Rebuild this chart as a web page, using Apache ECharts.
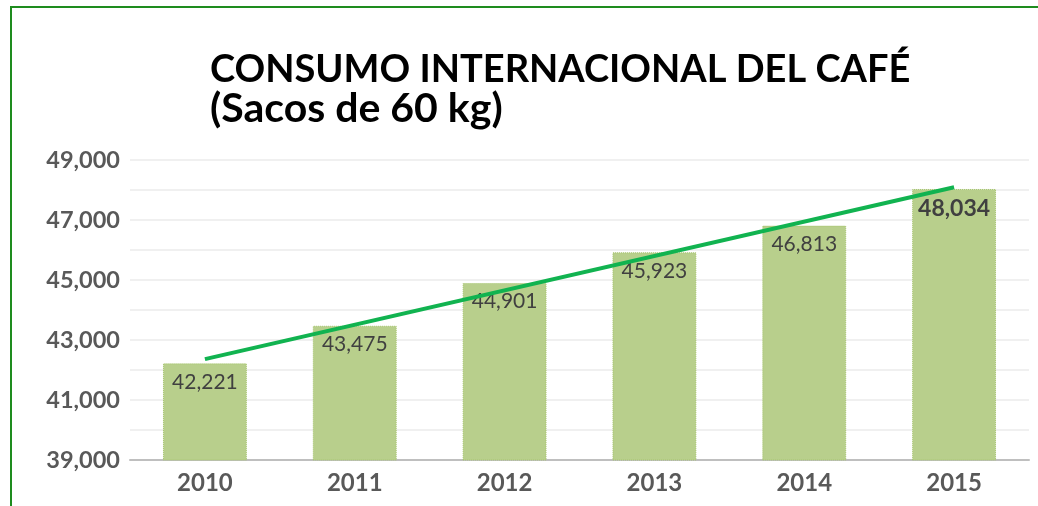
<!DOCTYPE html>
<html lang="es">
<head>
    <meta charset="UTF-8">
    <title>Consumo internacional del café</title>
    <style>
        html, body { margin: 0; padding: 0; background: #fff; }
    </style>
</head>
<body>
<div id="main" style="width: 1038px;height:506px;"></div>
<script type="text/javascript" src="https://cdn.jsdelivr.net/npm/echarts@6/dist/echarts.min.js"></script>
<script type="text/javascript">
    // datos
    var years = ['2010', '2011', '2012', '2013', '2014', '2015'];
    var consumo = [42221, 43475, 44901, 45923, 46813, 48034];
    // línea de tendencia: extremos
    var tendencia = [42364, null, null, null, null, 48092];

    var myChart = echarts.init(document.getElementById('main'));
    var fontFam = 'Lato, "Open Sans", sans-serif';

    var option = {
        backgroundColor: '#ffffff',
        animation: false,
        title: {
            text: '{a|CONSUMO INTERNACIONAL DEL CAFÉ}\n{b|(Sacos de 60 kg)}',
            left: 205,
            top: 45,
            textStyle: {
                fontFamily: fontFam,
                fontWeight: 'bold',
                fontSize: 38,
                color: '#000000',
                rich: {
                    a: { fontFamily: fontFam, fontWeight: 'bold', fontSize: 38, lineHeight: 40, color: '#000' },
                    b: { fontFamily: fontFam, fontWeight: 'bold', fontSize: 41, lineHeight: 38, color: '#000' }
                }
            }
        },
        graphic: [{
            type: 'rect',
            shape: { x: 11, y: 7, width: 1040, height: 520 },
            style: { fill: 'none', stroke: '#1e8c1e', lineWidth: 2 },
            silent: true
        }],
        grid: {
            left: 130,
            right: 9,
            top: 160,
            bottom: 46
        },
        xAxis: {
            type: 'category',
            data: years,
            axisTick: { show: false },
            axisLine: { lineStyle: { color: '#bfbfbf', width: 2 } },
            axisLabel: {
                color: '#595959',
                fontFamily: fontFam,
                fontWeight: 'bold',
                fontSize: 24,
                margin: 11
            }
        },
        yAxis: {
            type: 'value',
            min: 39000,
            max: 49000,
            interval: 1000,
            axisLine: { show: false },
            axisTick: { show: false },
            splitLine: { lineStyle: { color: '#ebebeb', width: 1.5 } },
            axisLabel: {
                color: '#595959',
                fontFamily: fontFam,
                fontWeight: 'bold',
                fontSize: 23.5,
                margin: 10,
                formatter: function (v) {
                    if ((v - 39000) % 2000 !== 0) return '';
                    return v.toLocaleString('en-US');
                }
            }
        },
        series: [{
            name: 'Consumo',
            type: 'bar',
            data: consumo,
            barWidth: '56%',
            itemStyle: {
                color: '#b8cf8c',
                borderColor: '#a6c46e',
                borderWidth: 1,
                borderType: 'dotted'
            },
            label: {
                show: true,
                position: 'insideTop',
                distance: 8,
                color: '#404040',
                fontFamily: fontFam,
                fontSize: 21,
                formatter: function (p) {
                    var s = p.value.toLocaleString('en-US');
                    return p.dataIndex === consumo.length - 1 ? '{b|' + s + '}' : s;
                },
                rich: {
                    b: { fontWeight: 'bold', fontSize: 23, color: '#404040', fontFamily: fontFam }
                }
            }
        }, {
            name: 'Tendencia',
            type: 'line',
            data: tendencia,
            connectNulls: true,
            symbol: 'none',
            lineStyle: { color: '#11b350', width: 4 },
            z: 5
        }]
    };
    myChart.setOption(option);
</script>
</body>
</html>
